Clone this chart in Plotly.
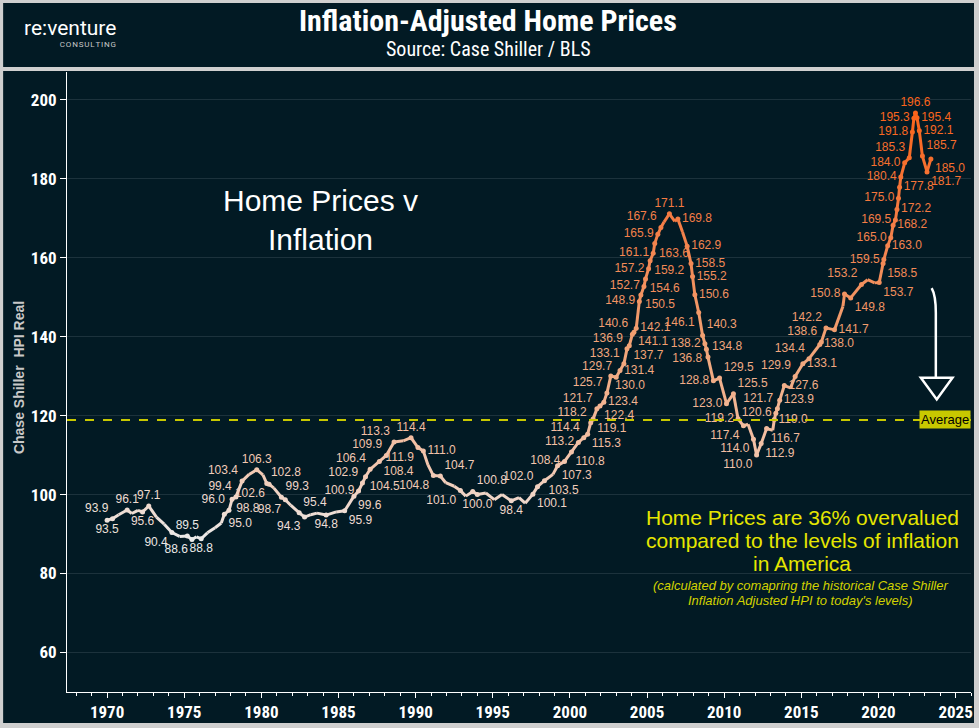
import plotly.graph_objects as go

# ---------------- data ----------------
years = [
    1970.0, 1970.35, 1970.75, 1971.3, 1971.6, 1972.0, 1972.3, 1972.7, 1973.2, 1973.7,
    1974.2, 1974.7, 1975.2, 1975.5, 1975.8, 1976.1, 1976.5, 1977.0, 1977.4, 1977.6,
    1977.9, 1978.1, 1978.35, 1978.75, 1979.2, 1979.7, 1980.1, 1980.35, 1980.5, 1980.8,
    1981.3, 1981.55, 1981.9, 1982.45, 1982.8, 1983.2, 1983.6, 1984.2, 1984.85, 1985.4,
    1986.0, 1986.3, 1986.55, 1986.75, 1987.05, 1987.65, 1988.1, 1988.6, 1989.2, 1989.7,
    1990.15, 1990.5, 1990.8, 1991.15, 1991.6, 1991.95, 1992.5, 1992.9, 1993.25, 1993.7,
    1994.0, 1994.55, 1995.1, 1995.6, 1996.2, 1996.7, 1997.1, 1997.6, 1997.9, 1998.35,
    1998.9, 1999.2, 1999.65, 2000.1, 2000.55, 2000.9, 2001.15, 2001.35, 2001.5, 2001.75,
    2001.95, 2002.2, 2002.4, 2002.65, 2003.0, 2003.25, 2003.5, 2003.7, 2003.85, 2004.05,
    2004.15, 2004.3, 2004.5, 2004.6, 2004.8, 2004.9, 2005.1, 2005.2, 2005.4, 2005.5,
    2005.7, 2005.9, 2006.1, 2006.45, 2006.8, 2007.0, 2007.3, 2007.6, 2007.85, 2007.95,
    2008.1, 2008.35, 2008.6, 2008.75, 2008.85, 2008.95, 2009.3, 2009.7, 2010.15, 2010.6,
    2010.9, 2011.25, 2011.55, 2011.9, 2012.1, 2012.4, 2012.75, 2013.15, 2013.25, 2013.35,
    2013.45, 2013.6, 2013.9, 2014.3, 2014.6, 2015.1, 2015.5, 2016.2, 2016.3, 2016.6,
    2017.15, 2017.7, 2017.8, 2018.2, 2018.9, 2019.3, 2019.75, 2020.05, 2020.3, 2020.35,
    2020.6, 2020.8, 2020.95, 2021.1, 2021.2, 2021.3, 2021.37, 2021.45, 2021.7, 2022.0,
    2022.2, 2022.3, 2022.4, 2022.5, 2022.65, 2022.85, 2023.15, 2023.4,
]
hpi_real = [
    93.5, 93.9, 94.9, 96.1, 95.2, 96.0, 95.6, 97.1, 94.3, 92.5,
    90.4, 89.4, 89.5, 88.6, 89.3, 88.8, 90.3, 91.6, 92.8, 95.0,
    96.0, 98.8, 99.4, 103.4, 105.1, 106.3, 105.0, 102.8, 102.6, 101.7,
    99.3, 98.7, 97.3, 95.4, 94.3, 94.9, 95.3, 94.8, 95.6, 95.9,
    99.6, 100.9, 102.9, 104.5, 106.4, 108.4, 109.9, 113.3, 113.6, 114.4,
    111.9, 111.0, 107.5, 104.8, 104.7, 103.0, 102.1, 101.0, 99.6, 100.8,
    100.0, 100.4, 98.7, 100.0, 98.4, 99.2, 97.8, 100.1, 102.0, 103.5,
    105.1, 107.3, 108.4, 110.8, 113.2, 114.4, 115.3, 118.2, 119.1, 121.7,
    122.4, 123.4, 125.7, 130.0, 129.7, 131.4, 133.1, 136.9, 137.7, 140.6,
    141.1, 142.1, 148.9, 150.5, 152.7, 154.6, 157.2, 159.2, 161.1, 163.6,
    165.9, 167.6, 169.0, 171.1, 169.2, 169.8, 166.5, 162.9, 158.5, 155.2,
    150.6, 146.1, 140.3, 138.2, 136.8, 134.8, 128.8, 129.5, 123.0, 125.5,
    119.2, 117.4, 117.8, 114.0, 110.0, 112.9, 116.7, 116.3, 119.0, 120.6,
    121.7, 123.9, 127.6, 127.0, 129.9, 133.1, 134.4, 138.0, 138.6, 142.2,
    141.7, 147.7, 150.8, 149.8, 153.2, 154.4, 153.6, 153.7, 158.5, 159.5,
    163.0, 165.0, 168.2, 169.5, 172.2, 175.0, 177.8, 180.4, 184.0, 185.3,
    191.8, 195.3, 196.6, 195.4, 192.1, 185.7, 181.7, 185.0,
]
average = 118.9
x_ticks = [1970, 1975, 1980, 1985, 1990, 1995, 2000, 2005, 2010, 2015, 2020, 2025]
y_ticks = [60, 80, 100, 120, 140, 160, 180, 200]

# label placement (style only, parallel to the data above; '' = no label)
label_pos = [
    'bottom center', 'top left', '', 'top center', '', '', 'bottom center', 'top center', '', '',
    'bottom left', '', 'top center', 'bottom left', '', 'bottom center', '', '', '', 'bottom right',
    'top left', 'bottom right', 'top left', 'top left', '', 'top center', '', 'top right', 'bottom left', '',
    'top right', 'bottom left', '', 'top right', 'bottom left', '', '', 'bottom center', '', 'bottom right',
    'bottom right', 'middle left', 'top left', 'bottom right', 'top left', 'bottom right', 'top left', 'top left', '', 'top center',
    'bottom left', 'middle right', '', 'bottom left', 'top right', '', '', 'bottom left', '', 'top right',
    'bottom center', '', '', '', 'bottom center', '', '', 'bottom right', 'top left', 'bottom right',
    '', 'bottom right', 'middle left', 'bottom right', 'middle left', 'top left', 'bottom right', 'top left', 'bottom right', 'top left',
    'bottom right', 'middle right', 'top left', 'bottom right', 'top left', 'middle right', 'top left', 'top left', 'bottom right', 'top left',
    'bottom right', 'middle right', 'middle left', 'bottom right', 'middle left', 'bottom right', 'middle left', 'bottom right', 'middle left', 'bottom right',
    'middle left', 'top left', '', 'top center', '', 'middle right', '', 'middle right', 'middle right', 'middle right',
    'middle right', 'bottom left', 'top right', 'middle left', 'bottom left', 'top right', 'middle left', 'top right', 'middle left', 'top right',
    'middle left', 'bottom left', '', 'bottom left', 'bottom left', 'bottom right', 'bottom right', '', 'middle right', 'middle left',
    'top left', 'middle right', 'middle right', '', 'top left', 'middle right', 'top left', 'middle right', 'top left', 'top left',
    'middle right', '', 'middle left', 'bottom right', 'top left', '', '', 'bottom right', 'bottom right', 'middle left',
    'middle right', 'middle left', 'middle right', 'middle left', 'middle right', 'middle left', 'middle right', 'middle left', 'middle left', 'top left',
    'middle left', 'middle left', 'top center', 'middle right', 'middle right', 'top right', 'bottom right', 'bottom right',
]

# ---------------- styling helpers ----------------
W, H = 979, 728
ML, MR, MT, MB = 67, 6, 72, 36
PW, PH = W - ML - MR, H - MT - MB
BG = "#021a24"
GRID = "#1c323c"
FRAME = "#cfcfcf"
NARROW = "Liberation Sans Narrow, Arial Narrow, Roboto Condensed, sans-serif"
SANS = "Arial, Liberation Sans, sans-serif"


def px_x(X):
    return (X - ML) / PW


def px_y(Y):
    return (H - MB - Y) / PH


COLOR_STOPS = [
    (88.0, (236, 236, 236)),
    (106.0, (242, 200, 178)),
    (140.0, (241, 160, 114)),
    (170.0, (244, 124, 68)),
    (197.0, (250, 100, 26)),
]


def value_color(v):
    if v <= COLOR_STOPS[0][0]:
        c = COLOR_STOPS[0][1]
    elif v >= COLOR_STOPS[-1][0]:
        c = COLOR_STOPS[-1][1]
    else:
        for (a, ca), (b, cb) in zip(COLOR_STOPS[:-1], COLOR_STOPS[1:]):
            if a <= v <= b:
                t = (v - a) / (b - a)
                c = tuple(ca[k] + (cb[k] - ca[k]) * t for k in range(3))
                break
    return "rgb(%d,%d,%d)" % tuple(round(x) for x in c)


fig = go.Figure()

# coloured line, segment by segment
for i in range(len(years) - 1):
    fig.add_trace(go.Scatter(
        x=years[i:i + 2], y=hpi_real[i:i + 2], mode="lines",
        line=dict(color=value_color((hpi_real[i] + hpi_real[i + 1]) / 2), width=3),
        hoverinfo="skip", showlegend=False,
    ))

# labelled points
idx = [i for i, p in enumerate(label_pos) if p]
fig.add_trace(go.Scatter(
    x=[years[i] for i in idx],
    y=[hpi_real[i] for i in idx],
    mode="markers+text",
    text=["%.1f" % hpi_real[i] for i in idx],
    textposition=[label_pos[i] for i in idx],
    textfont=dict(family=SANS, size=12, color=[value_color(hpi_real[i]) for i in idx]),
    marker=dict(size=5, color=[value_color(hpi_real[i]) for i in idx]),
    showlegend=False, hoverinfo="x+y",
))

shapes = [
    dict(type="rect", xref="paper", yref="paper", x0=px_x(3), x1=px_x(976), y0=px_y(67), y1=px_y(3),
         fillcolor=BG, line=dict(width=0), layer="below"),
    dict(type="rect", xref="paper", yref="paper", x0=px_x(3), x1=px_x(976), y0=px_y(723), y1=px_y(71),
         fillcolor=BG, line=dict(width=0), layer="below"),
    dict(type="line", xref="paper", yref="y", x0=0, x1=1, y0=average, y1=average,
         line=dict(color="#c8c800", width=2, dash="dash"), layer="above"),
    dict(type="path", xref="x", yref="y",
         path="M 2023.45,152.3 Q 2023.72,150.5 2023.72,146 L 2023.72,129.6",
         line=dict(color="white", width=2.5)),
    dict(type="path", xref="x", yref="y",
         path="M 2022.75,129.6 L 2024.8,129.6 L 2023.78,124.1 Z",
         line=dict(color="white", width=2.5), fillcolor="rgba(0,0,0,0)"),
]

annotations = [
    dict(xref="paper", yref="paper", x=px_x(489), y=px_y(21), text="<b>Inflation-Adjusted Home Prices</b>",
         showarrow=False, font=dict(family=NARROW, size=30, color="white"), xanchor="center", yanchor="middle"),
    dict(xref="paper", yref="paper", x=px_x(489), y=px_y(49), text="Source: Case Shiller / BLS",
         showarrow=False, font=dict(family=NARROW, size=20, color="white"), xanchor="center", yanchor="middle"),
    dict(xref="paper", yref="paper", x=px_x(118), y=px_y(28), text="re:venture",
         showarrow=False, font=dict(family="Roboto, Arial, sans-serif", size=21, color="white"),
         xanchor="right", yanchor="middle"),
    dict(xref="paper", yref="paper", x=px_x(118), y=px_y(44),
         text="\u200aC\u200aO\u200aN\u200aS\u200aU\u200aL\u200aT\u200aI\u200aN\u200aG",
         showarrow=False, font=dict(family="Roboto, Arial, sans-serif", size=8, color="#c8c8c8"),
         xanchor="right", yanchor="middle"),
    dict(xref="paper", yref="paper", x=px_x(19), y=px_y(378), text="<b>Chase Shiller  HPI Real</b>",
         textangle=-90, showarrow=False, font=dict(family=SANS, size=14, color="#c8c8c8"),
         xanchor="center", yanchor="middle"),
    dict(xref="paper", yref="paper", x=px_x(321), y=px_y(220), text="Home Prices v<br>Inflation",
         showarrow=False, font=dict(family=SANS, size=30, color="white"),
         xanchor="center", yanchor="middle", align="center"),
    dict(xref="paper", yref="y", x=1, y=average, text="Average", showarrow=False,
         font=dict(family=SANS, size=13, color="black"),
         bgcolor="#c8c800", borderpad=1, xanchor="right", yanchor="middle"),
]

callout = ["Home Prices are 36% overvalued", "compared to the levels of inflation", "in America"]
for k, line in enumerate(callout):
    annotations.append(dict(xref="paper", yref="paper", x=px_x(804), y=px_y(517 + 23 * k), text=line,
                            showarrow=False, font=dict(family=SANS, size=21, color="#e6e600"),
                            xanchor="center", yanchor="middle"))
footnote = ["(calculated by comapring the historical Case Shiller", "Inflation Adjusted HPI to today's levels)"]
for k, line in enumerate(footnote):
    annotations.append(dict(xref="paper", yref="paper", x=px_x(802), y=px_y(585 + 15 * k),
                            text="<i>%s</i>" % line, showarrow=False,
                            font=dict(family=SANS, size=13, color="#d2d200"),
                            xanchor="center", yanchor="middle"))

fig.update_layout(
    width=W, height=H,
    margin=dict(l=ML, r=MR, t=MT, b=MB),
    paper_bgcolor=FRAME, plot_bgcolor=BG,
    shapes=shapes, annotations=annotations,
    showlegend=False,
    xaxis=dict(
        range=[1967.4, 2026.0], tickvals=x_ticks, ticktext=[str(t) for t in x_ticks],
        showgrid=False, zeroline=False, showline=True, linecolor="white", linewidth=1,
        ticks="outside", ticklen=5, tickcolor="white",
        tickfont=dict(family=NARROW, size=17, color="white", weight="bold"),
        minor=dict(dtick=1, tick0=1970, ticks="outside", ticklen=3, tickcolor="white", showgrid=False),
    ),
    yaxis=dict(
        range=[50, 207], tickvals=y_ticks,
        showgrid=True, gridcolor=GRID, gridwidth=1, zeroline=False,
        showline=True, linecolor="white", linewidth=1,
        ticks="outside", ticklen=6, tickcolor="white",
        tickfont=dict(family=NARROW, size=17, color="white", weight="bold"),
    ),
)

fig.write_html("out.html", config={"displayModeBar": False},
               post_script="document.body.style.margin='0';document.body.style.overflow='hidden';")
